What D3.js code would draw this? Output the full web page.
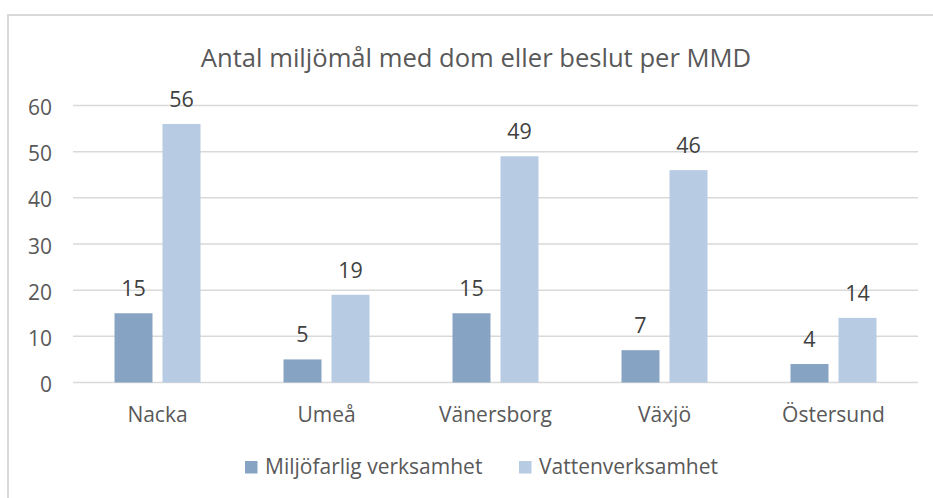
<!DOCTYPE html>
<html><head><meta charset="utf-8">
<script src="https://cdn.jsdelivr.net/npm/d3@7"></script>
<style>body{margin:0;background:#fff}svg{display:block}text{font-family:"Open Sans",sans-serif}</style>
</head><body><svg id="c" width="933" height="498"></svg>
<script>
const title = "Antal miljömål med dom eller beslut per MMD";
const categories = ["Nacka","Umeå","Vänersborg","Växjö","Östersund"];
const seriesNames = ["Miljöfarlig verksamhet","Vattenverksamhet"];
const miljofarlig = [15,5,15,7,4];
const vatten = [56,19,49,46,14];
const yTicks = [0,10,20,30,40,50,60];
const colors = ["#87A3C3","#B7CCE3"];

const svg = d3.select("#c");
svg.append("rect").attr("x",8).attr("y",15).attr("width",940).attr("height",500)
  .attr("fill","#fff").attr("stroke","#D9D9D9").attr("stroke-width",2);

const x0 = d3.scaleBand().domain(categories).range([73,918]);
const y = d3.scaleLinear().domain([0,60]).range([382.5,105.5]);
const barW = 38, gap = 10;

const grid = svg.append("g");
grid.selectAll("line").data(yTicks).join("line")
  .attr("x1",73).attr("x2",918).attr("y1",d=>y(d)).attr("y2",d=>y(d))
  .attr("stroke","#D9D9D9").attr("stroke-width",1.5);

const yAxis = svg.append("g").attr("transform","translate(52,1.5)")
  .call(d3.axisLeft(y).tickValues(yTicks).tickSize(0).tickPadding(0));
yAxis.select(".domain").remove();
yAxis.selectAll("text").attr("font-size",21).attr("fill","#595959").attr("dy","0.36em").attr("font-family","Open Sans");

const xAxis = svg.append("g").attr("transform","translate(0,382)")
  .call(d3.axisBottom(x0).tickSize(0).tickPadding(0));
xAxis.select(".domain").remove();
xAxis.selectAll("text").attr("font-size",21).attr("fill","#595959").attr("font-family","Open Sans")
  .attr("dy",null).attr("y",39.5);

const series = [miljofarlig, vatten];
series.forEach((vals,si)=>{
  const g = svg.append("g");
  const off = si===0 ? -(gap/2+barW) : gap/2;
  g.selectAll("rect").data(vals).join("rect")
    .attr("x",(d,i)=>x0(categories[i])+x0.bandwidth()/2+off)
    .attr("width",barW)
    .attr("y",d=>y(d)).attr("height",d=>y(0)-y(d))
    .attr("fill",colors[si]);
  g.selectAll("text").data(vals).join("text")
    .attr("x",(d,i)=>x0(categories[i])+x0.bandwidth()/2+off+barW/2)
    .attr("y",d=>y(d)-17)
    .attr("text-anchor","middle").attr("font-size",21.5).attr("fill","#404040")
    .text(d=>d);
});

svg.append("text").attr("x",476).attr("y",67).attr("text-anchor","middle")
  .attr("font-size",25.6).attr("fill","#595959").text(title);

const legX = [245,519];
seriesNames.forEach((n,i)=>{
  svg.append("rect").attr("x",legX[i]).attr("y",461).attr("width",12.5).attr("height",12.5).attr("fill",colors[i]);
  svg.append("text").attr("x",legX[i]+20).attr("y",474).attr("font-size",21).attr("fill","#595959").text(n);
});
</script></body></html>
